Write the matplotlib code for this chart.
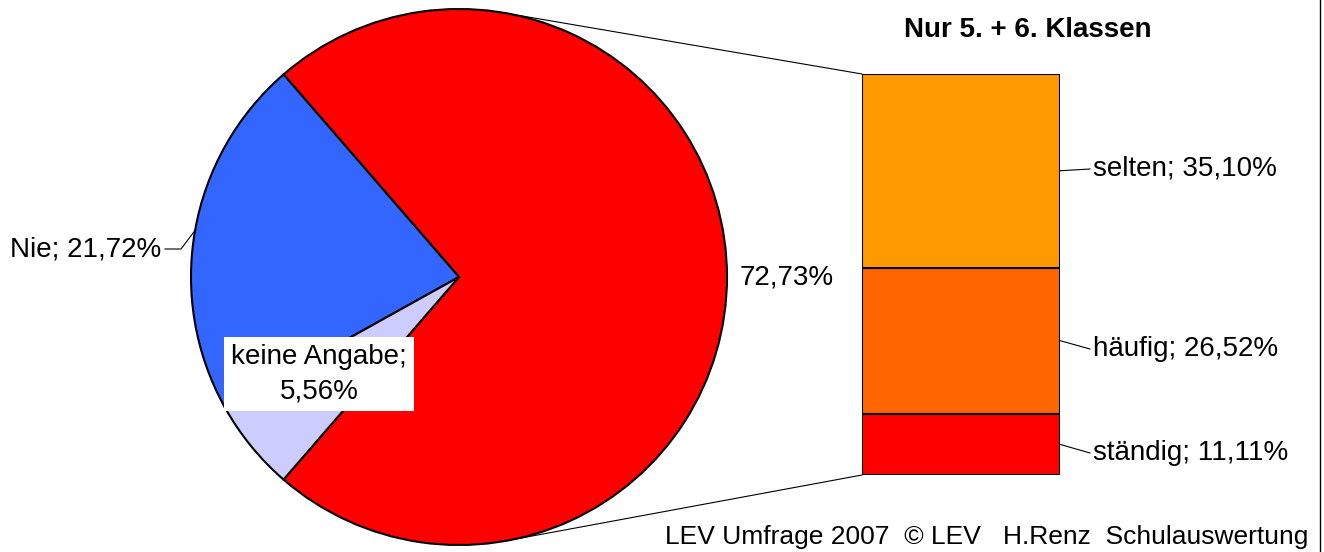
import numpy as np
import matplotlib.pyplot as plt
from matplotlib.patches import ConnectionPatch
from matplotlib.lines import Line2D

plt.rcParams['font.family'] = ['Liberation Sans', 'DejaVu Sans']

# pie data (all classes)
pie_labels = ["72,73%", "Nie; 21,72%", "keine Angabe;\n5,56%"]
pie_values = [72.73, 21.72, 5.56]
pie_colors = ["#FF0000", "#3366FF", "#CCCCFF"]

# bar data (only 5th + 6th classes), bottom to top
bar_labels = ["ständig; 11,11%", "häufig; 26,52%", "selten; 35,10%"]
bar_values = [11.11, 26.52, 35.10]
bar_colors = ["#FF0000", "#FF6600", "#FF9900"]

W, H = 1324, 552
fig = plt.figure(figsize=(W / 100, H / 100), dpi=100)

# pie axes: center (459,277), radius 268 px
cx, cy, r = 459, 277, 268
ax1 = fig.add_axes([(cx - r) / W, (H - cy - r) / H, 2 * r / W, 2 * r / H])
start = -pie_values[0] / sum(pie_values) * 180
wedges, _ = ax1.pie(pie_values, colors=pie_colors, startangle=start, radius=1,
                    wedgeprops=dict(edgecolor="black", linewidth=1.5))
ax1.set_xlim(-1, 1)
ax1.set_ylim(-1, 1)
ax1.axis("off")

def px(x, y):
    return (x - cx) / r, (cy - y) / r

# 72,73%
ax1.text(*px(787, 277), pie_labels[0], fontsize=20, ha="center", va="center")

# Nie label with leader
w = wedges[1]
mid = np.deg2rad((w.theta1 + w.theta2) / 2)
ex, ey = np.cos(mid), np.sin(mid)
elbow = px(181, 249)
tail = px(165, 249)
ax1.plot([ex, elbow[0], tail[0]], [ey, elbow[1], tail[1]], color="black",
         lw=0.8, clip_on=False)
ax1.text(*px(161, 249), pie_labels[1], fontsize=20, ha="right", va="center")

# keine Angabe in white box
ax1.text(*px(319, 374), pie_labels[2], fontsize=20, ha="center", va="center",
         linespacing=1.4,
         bbox=dict(facecolor="white", edgecolor="none", pad=5))

# bar axes
bx0, bx1, by0, by1 = 862, 1060, 74, 475
ax2 = fig.add_axes([bx0 / W, (H - by1) / H, (bx1 - bx0) / W, (by1 - by0) / H])
total = sum(bar_values)
bottoms = np.concatenate([[0], np.cumsum(bar_values)[:-1]])
ax2.bar(0, bar_values, width=1, bottom=bottoms, color=bar_colors,
        edgecolor="black", linewidth=1.5)
ax2.set_xlim(-0.5, 0.5)
ax2.set_ylim(0, total)
ax2.axis("off")

label_y = [453, 349, 169]  # pixel rows of label text
for b, v, lab, ly in zip(bottoms, bar_values, bar_labels, label_y):
    yd = total * (by1 - ly) / (by1 - by0)
    xs = 0.5 + 30 / (bx1 - bx0)
    ax2.plot([0.5, xs], [b + v / 2, yd], color="black", lw=0.8, clip_on=False)
    ax2.text(xs + 3 / (bx1 - bx0), yd, lab, fontsize=20, ha="left", va="center")

fig.text(1028 / W, (H - 30) / H, "Nur 5. + 6. Klassen", fontsize=20,
         fontweight="bold", ha="center", va="center")

# connector lines from pie to bar
ang = np.deg2rad(79)
for sgn, yb in [(1, total), (-1, 0)]:
    con = ConnectionPatch(xyA=(np.cos(ang), sgn * np.sin(ang)), coordsA=ax1.transData,
                          xyB=(-0.5, yb), coordsB=ax2.transData,
                          color="black", lw=0.8)
    fig.add_artist(con)

fig.text(1308 / W, (H - 537) / H, "LEV Umfrage 2007  © LEV   H.Renz  Schulauswertung",
         fontsize=19, ha="right", va="center")
fig.add_artist(Line2D([1320 / W, 1320 / W], [0, 1], transform=fig.transFigure,
                      color="black", lw=1))

fig.savefig("out.png", dpi=100)
